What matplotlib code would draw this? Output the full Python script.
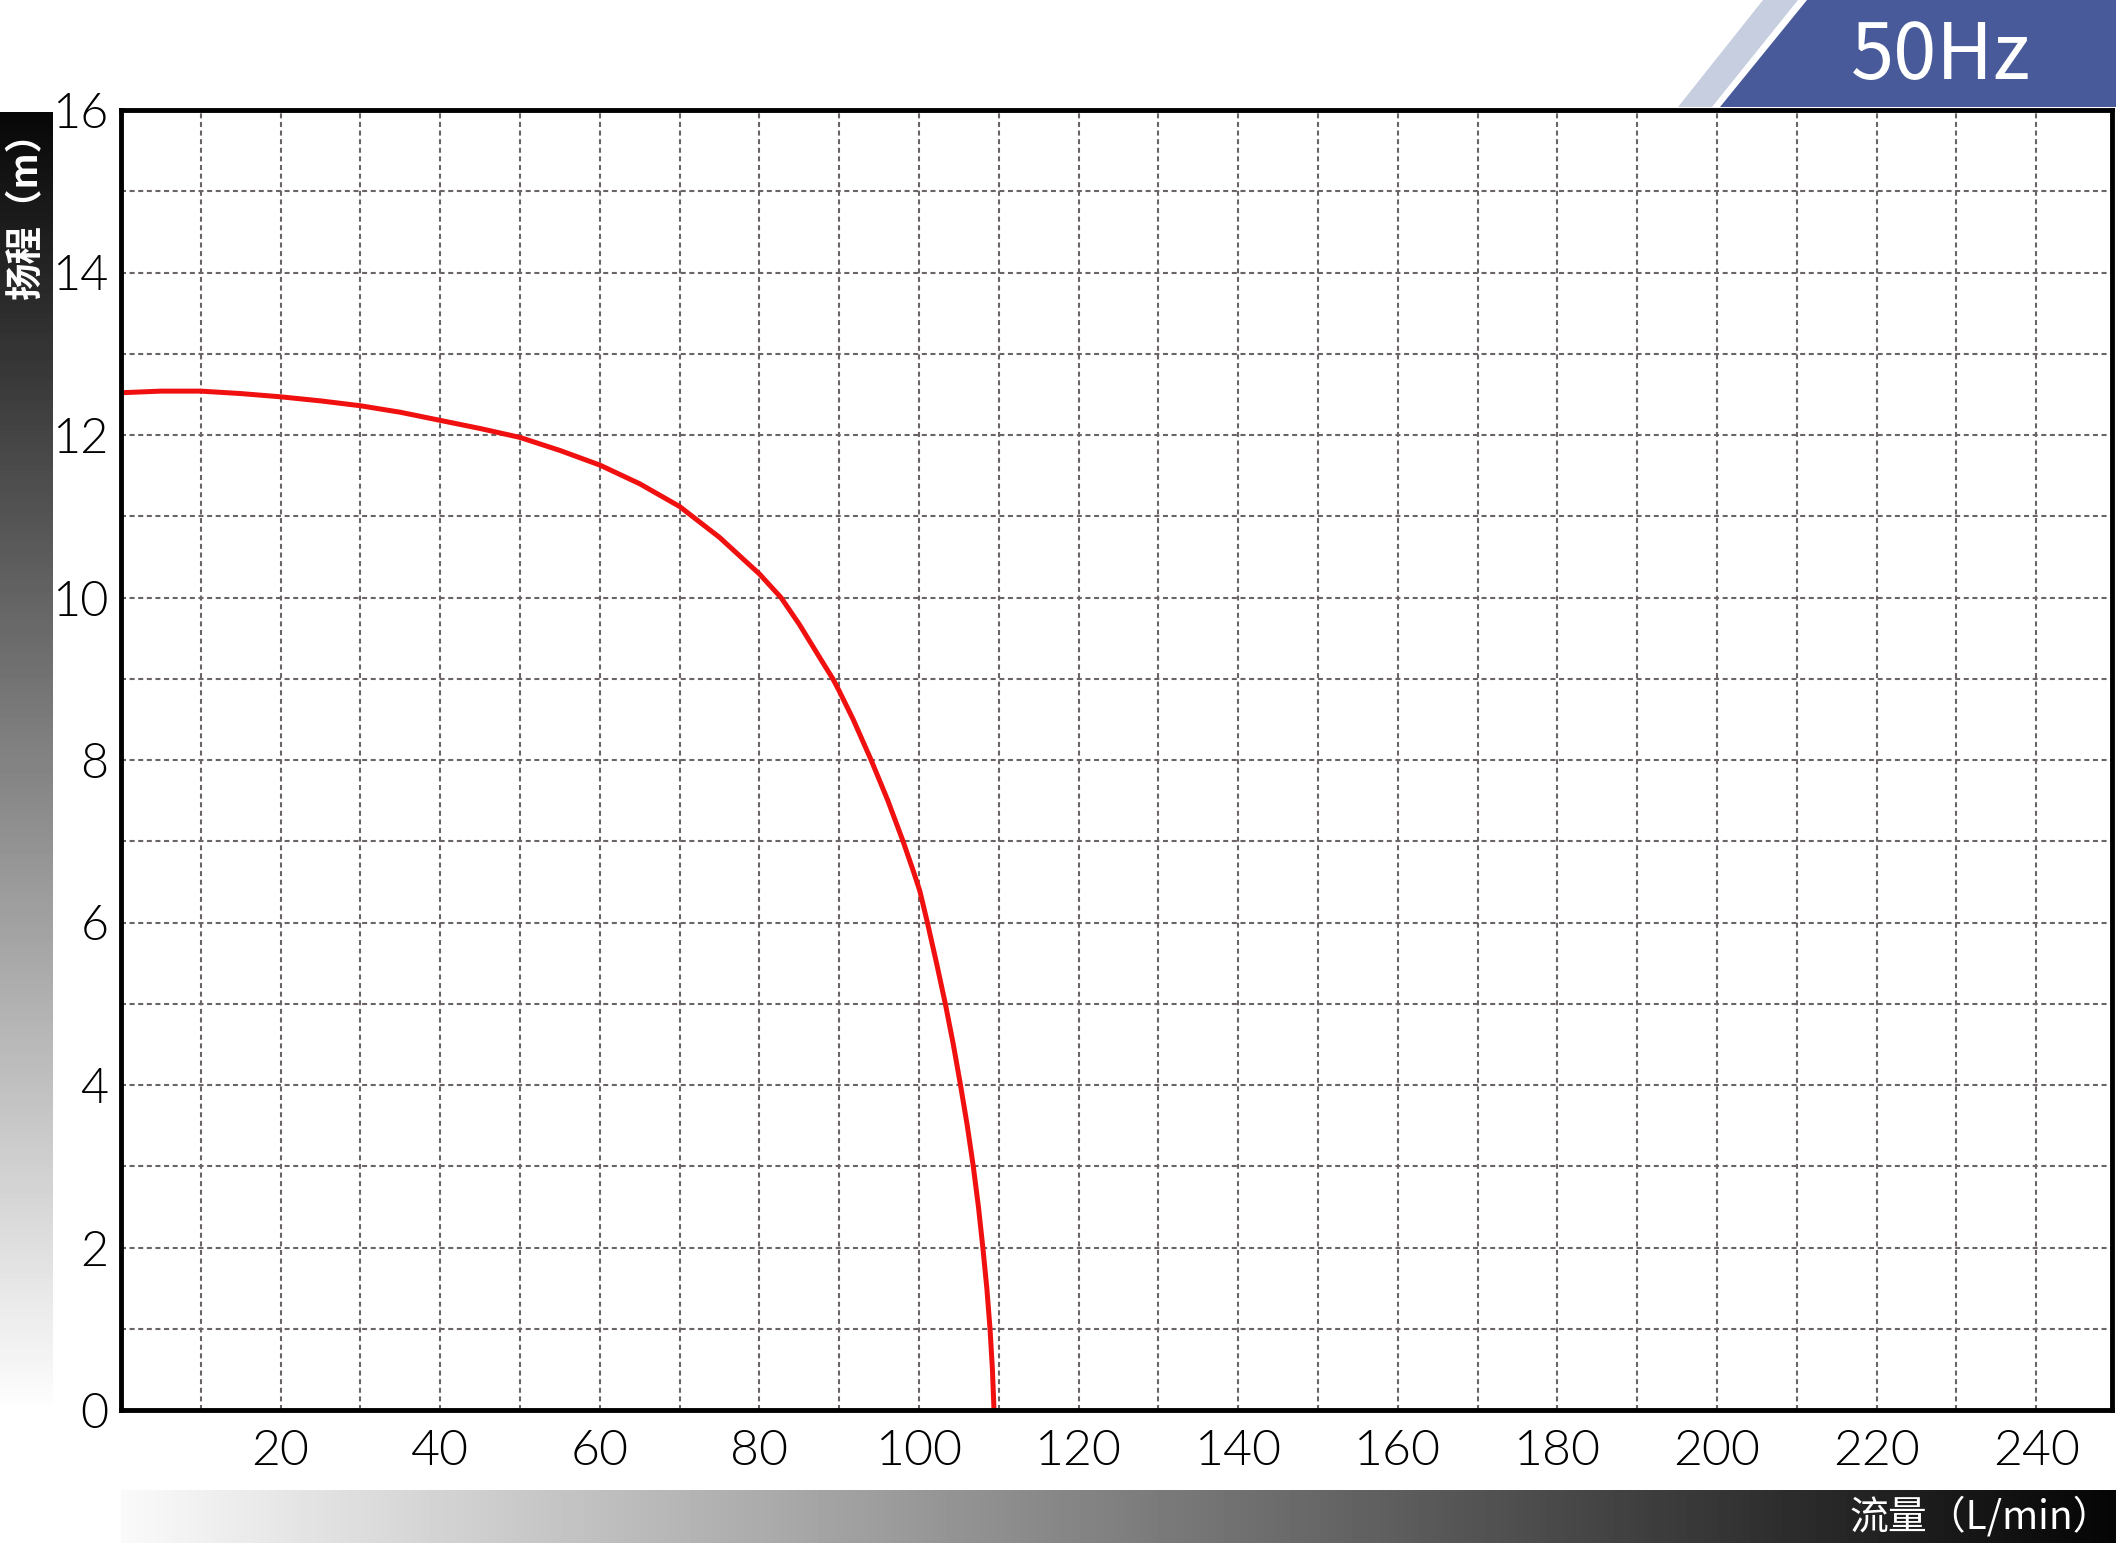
import numpy as np
import matplotlib
matplotlib.use("Agg")
import matplotlib.pyplot as plt
from matplotlib.patches import Polygon

plt.rcParams['font.family'] = ['Lato', 'Noto Sans CJK SC', 'DejaVu Sans']
plt.rcParams['lines.scale_dashes'] = False

# ---- data ----
flow = [0, 5, 10, 15, 20, 25, 30, 35, 40, 45, 50, 55, 60, 65, 70, 75, 80, 82.7, 85, 87.5,
        89.2, 90, 91.75, 94, 96.1, 98, 99.3, 100.1, 101.05, 102.2, 103.3, 104.3, 105.2, 106.05,
        106.8, 107.45, 108.0, 108.5, 108.9, 109.2, 109.4]
head = [12.52, 12.54, 12.54, 12.51, 12.47, 12.42, 12.36, 12.28, 12.18, 12.08, 11.97, 11.81,
        11.63, 11.40, 11.12, 10.74, 10.29, 10.0, 9.67, 9.27, 9.0, 8.85, 8.5, 8.0, 7.5, 7.0,
        6.63, 6.39, 6.0, 5.5, 5.0, 4.5, 4.0, 3.5, 3.0, 2.5, 2.0, 1.5, 1.0, 0.5, 0.0]
x_ticks = [20, 40, 60, 80, 100, 120, 140, 160, 180, 200, 220, 240]
y_ticks = [0, 2, 4, 6, 8, 10, 12, 14, 16]
x_label = "流量（L/min）"
y_label = "扬程（m）"
badge_text = "50Hz"

W, H = 2116, 1544
fig = plt.figure(figsize=(W / 100, H / 100), dpi=100)

def fx(px):
    return px / W

def fy(py):
    return 1 - py / H

# y-label gradient bar
bar_y = fig.add_axes([0, fy(1405), fx(53), (1405 - 112) / H])
bar_y.set_zorder(0)
grad_v = np.linspace(0.03, 0.99, 256).reshape(-1, 1)
bar_y.imshow(grad_v, cmap='gray', vmin=0, vmax=1, aspect='auto', extent=[0, 1, 1, 0])
bar_y.set_xlim(0, 1)
bar_y.set_ylim(1, 0)
bar_y.axis('off')

# x-label gradient bar
bar_x = fig.add_axes([fx(121), fy(1543), fx(W - 121), (1543 - 1490) / H])
bar_x.set_zorder(0)
grad_h = np.linspace(0.98, 0.02, 512).reshape(1, -1)
bar_x.imshow(grad_h, cmap='gray', vmin=0, vmax=1, aspect='auto', extent=[0, 1, 0, 1])
bar_x.axis('off')

# main axes
ax_l, ax_r, ax_t, ax_b = 121, 2112, 110, 1410
ax = fig.add_axes([fx(ax_l), fy(ax_b), fx(ax_r - ax_l), (ax_b - ax_t) / H])
ax.set_zorder(2)
ax.set_xlim(0, 249.5)
ax.set_ylim(0, 16)
ax.set_xticks(x_ticks)
ax.set_xticks(list(range(10, 250, 20)), minor=True)
ax.set_yticks(y_ticks)
ax.set_yticks(list(range(1, 16, 2)), minor=True)
ax.tick_params(which='both', length=0)
ax.tick_params(axis='x', pad=14, labelsize=36)
ax.tick_params(axis='y', pad=9, labelsize=35)
for lab in ax.get_xticklabels() + ax.get_yticklabels():
    lab.set_fontweight(300)
    lab.set_color('black')
ax.grid(True, which='both', color='#6b6466', linewidth=1.5, dashes=(3.6, 2.6))
ax.set_axisbelow(True)
for s in ax.spines.values():
    s.set_linewidth(3.5)
    s.set_color('black')
    s.set_zorder(5)
ax.plot(flow, head, color='#f01010', linewidth=3.6, solid_joinstyle='round',
        solid_capstyle='butt', zorder=4)

fig.text(fx(26), fy(206), y_label, rotation=90, color='white', fontsize=27,
         family=['Noto Sans CJK SC', 'DejaVu Sans'], fontweight='bold', ha='center', va='center',
         zorder=3)
fig.text(fx(2112), fy(1517), x_label, color='white', fontsize=28,
         family=['Noto Sans CJK SC', 'DejaVu Sans'], ha='right', va='center', zorder=3)

# badge
light = Polygon([(fx(1678), fy(107)), (fx(1763), fy(0)), (fx(1798), fy(0)), (fx(1712), fy(107))],
                closed=True, transform=fig.transFigure, facecolor='#c7cee0', edgecolor='none')
blue = Polygon([(fx(1720), fy(107)), (fx(1807), fy(0)), (fx(W), fy(0)), (fx(W), fy(107))],
               closed=True, transform=fig.transFigure, facecolor='#485a9a', edgecolor='none')
fig.patches.extend([light, blue])
fig.text(fx(1941), fy(57), badge_text, color='white', fontsize=56,
         family=['Noto Sans CJK SC', 'DejaVu Sans'], ha='center', va='center')

fig.savefig('out.png', dpi=100, facecolor='white')
